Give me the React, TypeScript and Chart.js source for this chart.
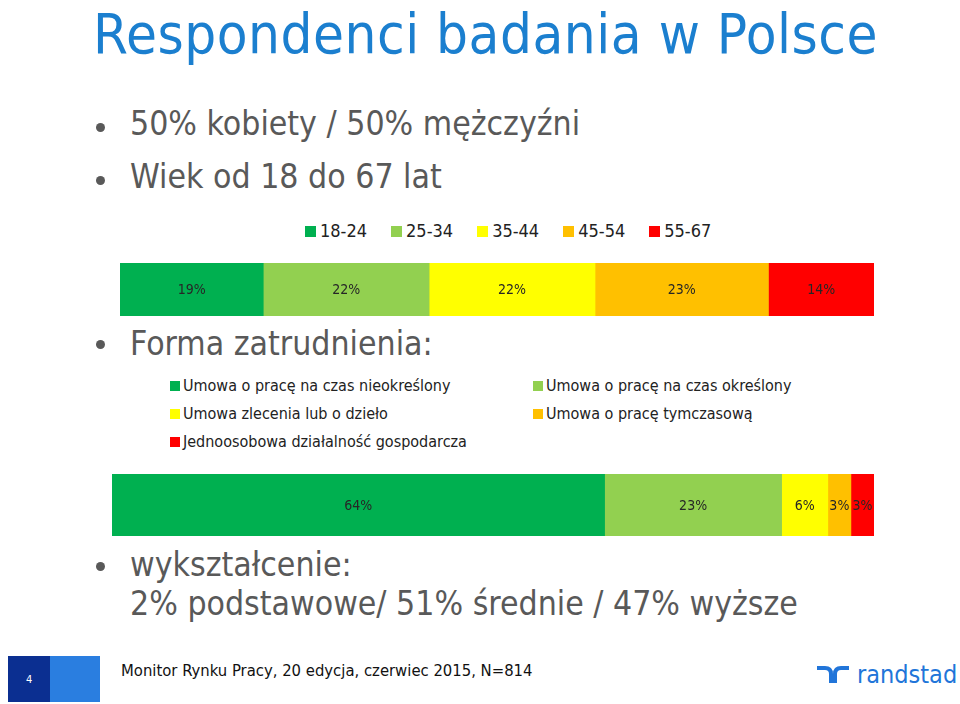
import React, { useEffect, useRef } from "react";
import { Chart, registerables } from "chart.js";

Chart.register(...registerables);

const ageLabels = ["18-24", "25-34", "35-44", "45-54", "55-67"];
const ageValues = [19, 22, 22, 23, 14];

const empLabels = [
  "Umowa o pracę na czas nieokreślony",
  "Umowa o pracę na czas określony",
  "Umowa zlecenia lub o dzieło",
  "Umowa o pracę tymczasową",
  "Jednoosobowa działalność gospodarcza",
];
const empValues = [64, 23, 6, 3, 3];

const segmentColors = ["#00b050", "#92d050", "#ffff00", "#ffc000", "#ff0000"];

const FONT = '"DejaVu Sans Condensed", "DejaVu Sans", sans-serif';
const GRAY = "#595959";

const labelPlugin = {
  id: "segLabels",
  afterDatasetsDraw(chart: any) {
    const ctx = chart.ctx;
    ctx.save();
    ctx.font = `14px ${FONT}`;
    ctx.fillStyle = "#262626";
    ctx.textAlign = "center";
    ctx.textBaseline = "middle";
    chart.data.datasets.forEach((ds: any, i: number) => {
      const meta = chart.getDatasetMeta(i);
      meta.data.forEach((el: any, j: number) => {
        const v = ds.data[j];
        const cx = (el.x + el.base) / 2;
        ctx.fillText(`${v}%`, cx, el.y + 1);
      });
    });
    ctx.restore();
  },
};

function StackBar(props: { labels: string[]; values: number[]; left: number; top: number; width: number; height: number }) {
  const ref = useRef<HTMLCanvasElement | null>(null);
  useEffect(() => {
    if (!ref.current) return;
    const total = props.values.reduce((a, b) => a + b, 0);
    const chart = new Chart(ref.current, {
      type: "bar",
      data: {
        labels: [""],
        datasets: props.values.map((v, i) => ({
          label: props.labels[i],
          data: [v],
          backgroundColor: segmentColors[i],
          borderWidth: 0,
          categoryPercentage: 1,
          barPercentage: 1,
        })),
      },
      options: {
        indexAxis: "y",
        responsive: false,
        maintainAspectRatio: false,
        animation: false,
        layout: { padding: 0 },
        scales: {
          x: { stacked: true, display: false, min: 0, max: total },
          y: { stacked: true, display: false },
        },
        plugins: { legend: { display: false }, tooltip: { enabled: false } },
      },
      plugins: [labelPlugin],
    } as any);
    return () => chart.destroy();
  }, []);
  return (
    <canvas
      ref={ref}
      width={props.width}
      height={props.height}
      style={{ position: "absolute", left: props.left, top: props.top, width: props.width, height: props.height }}
    />
  );
}

function Txt(props: { x: number; baseline: number; size: number; color?: string; children: any; spacing?: number }) {
  const top = props.baseline - 0.928 * props.size;
  return (
    <div
      style={{
        position: "absolute",
        left: props.x,
        top,
        fontSize: props.size,
        lineHeight: "normal",
        fontFamily: FONT,
        color: props.color || GRAY,
        whiteSpace: "nowrap",
        letterSpacing: props.spacing || 0,
      }}
    >
      {props.children}
    </div>
  );
}

function Dot(props: { y: number }) {
  return (
    <div
      style={{
        position: "absolute",
        left: 96,
        top: props.y - 4.5,
        width: 9,
        height: 9,
        borderRadius: "50%",
        background: GRAY,
      }}
    />
  );
}

export default function App() {
  return (
    <div style={{ position: "fixed", left: 0, top: 0, width: 960, height: 704, background: "#fff", overflow: "hidden", fontFamily: FONT }}>
      <Txt x={93} baseline={52.5} size={56} spacing={0.5} color="#1b7fcf">Respondenci badania w Polsce</Txt>

      <Dot y={127} />
      <Txt x={130} baseline={135} size={33.5}>50% kobiety / 50% mężczyźni</Txt>
      <Dot y={180} />
      <Txt x={130} baseline={188} size={33.5}>Wiek od 18 do 67 lat</Txt>

      <div style={{ position: "absolute", left: 305, top: 220, display: "flex", gap: 24, fontSize: 18, lineHeight: "22px", color: "#222" }}>
        {ageLabels.map((l, i) => (
          <div key={l} style={{ display: "flex", alignItems: "center" }}>
            <span style={{ display: "inline-block", width: 11, height: 11, background: segmentColors[i], marginRight: 4 }} />
            {l}
          </div>
        ))}
      </div>

      <StackBar labels={ageLabels} values={ageValues} left={120} top={263} width={754} height={53} />

      <Dot y={344} />
      <Txt x={130} baseline={355} size={33.5}>Forma zatrudnienia:</Txt>

      <div
        style={{
          position: "absolute",
          left: 170,
          top: 376,
          display: "grid",
          gridTemplateColumns: "363px auto",
          rowGap: 8,
          fontSize: 16,
          lineHeight: "20px",
          color: "#222",
        }}
      >
        {empLabels.map((l, i) => (
          <div key={l} style={{ display: "flex", alignItems: "center" }}>
            <span style={{ display: "inline-block", width: 10, height: 10, background: segmentColors[i], marginRight: 3 }} />
            {l}
          </div>
        ))}
      </div>

      <StackBar labels={empLabels} values={empValues} left={112} top={474} width={762} height={62} />

      <Dot y={566} />
      <Txt x={130} baseline={576} size={33.5}>wykształcenie:</Txt>
      <Txt x={130} baseline={615} size={33.5}>2% podstawowe/ 51% średnie / 47% wyższe</Txt>

      <div style={{ position: "absolute", left: 8, top: 656, width: 42, height: 46, background: "#0b2f91" }} />
      <div style={{ position: "absolute", left: 50, top: 656, width: 50, height: 46, background: "#2a7ee0" }} />
      <Txt x={26} baseline={683} size={11} color="#fff">4</Txt>
      <Txt x={121} baseline={676} size={16.5} color="#111">Monitor Rynku Pracy, 20 edycja, czerwiec 2015, N=814</Txt>

      <svg style={{ position: "absolute", left: 816, top: 665 }} width={34} height={18} viewBox="0 0 34 18">
        <path d="M1 3 H9 Q15 3 15 9 V18" stroke="#2175d9" strokeWidth={4} fill="none" />
        <path d="M19 18 V9 Q19 3 25 3 H33" stroke="#2175d9" strokeWidth={4} fill="none" />
      </svg>
      <Txt x={857} baseline={683} size={25} color="#2175d9">randstad</Txt>
    </div>
  );
}
